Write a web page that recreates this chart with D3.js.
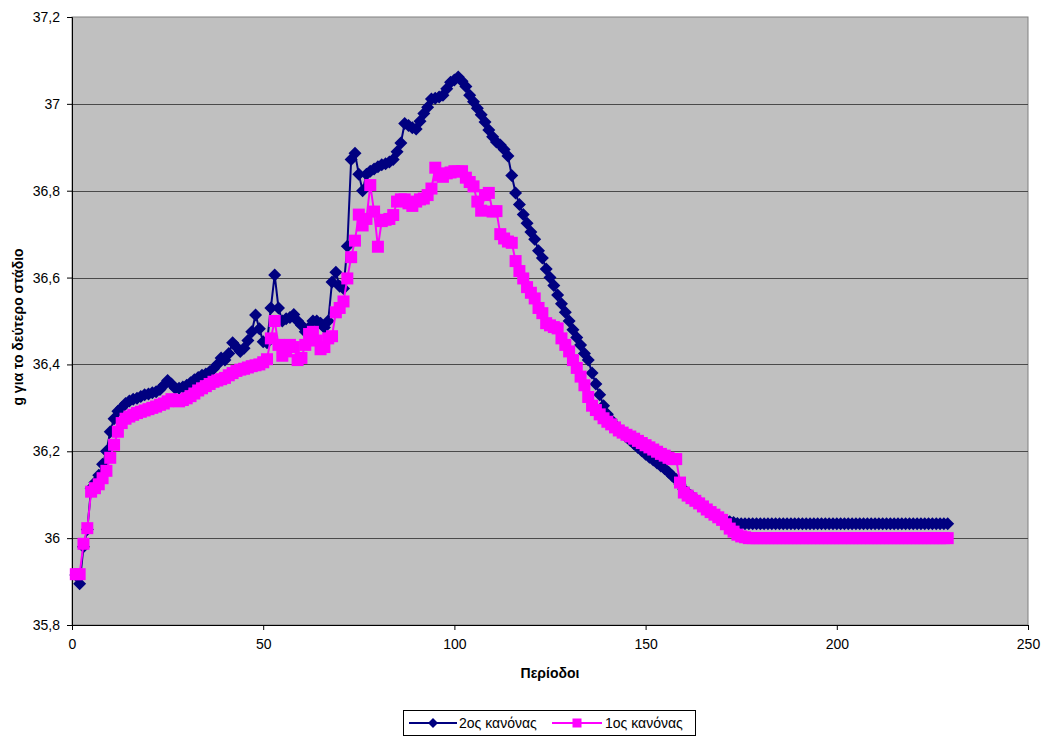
<!DOCTYPE html>
<html>
<head>
<meta charset="utf-8">
<script src="https://cdnjs.cloudflare.com/ajax/libs/d3/7.8.5/d3.min.js"></script>
<style>
  body { margin: 0; background: #fff; }
  svg { display: block; font-family: "Liberation Sans", Arial, sans-serif; }
</style>
</head>
<body>
<svg id="chart"></svg>
<script>
// values, period 1..229
const rule2 = [
  35.915, 35.895, 35.98, 36.02, 36.115, 36.128, 36.145, 36.17, 36.20, 36.245,
  36.275, 36.292, 36.30, 36.31, 36.316, 36.32, 36.322, 36.326, 36.33, 36.332,
  36.335, 36.337, 36.342, 36.352, 36.363, 36.355, 36.345, 36.345, 36.348, 36.352,
  36.358, 36.365, 36.37, 36.375, 36.378, 36.383, 36.39, 36.40, 36.415, 36.41,
  36.425, 36.45, 36.44, 36.43, 36.437, 36.455, 36.475, 36.514, 36.482, 36.452,
  36.45, 36.53, 36.606, 36.53, 36.50, 36.505, 36.508, 36.515, 36.50, 36.49,
  36.475, 36.485, 36.50, 36.50, 36.495, 36.485, 36.50, 36.59, 36.612, 36.58,
  36.575, 36.672, 36.872, 36.886, 36.838, 36.80, 36.838, 36.845, 36.85, 36.855,
  36.86, 36.862, 36.866, 36.872, 36.89, 36.91, 36.955, 36.95, 36.945, 36.942,
  36.96, 36.978, 36.992, 37.011, 37.013, 37.016, 37.02, 37.035, 37.05, 37.055,
  37.062, 37.052, 37.04, 37.02, 37.005, 36.99, 36.975, 36.958, 36.94, 36.924,
  36.912, 36.905, 36.895, 36.88, 36.835, 36.795, 36.768, 36.745, 36.725, 36.705,
  36.688, 36.662, 36.645, 36.62, 36.60, 36.582, 36.56, 36.54, 36.52, 36.50,
  36.48, 36.462, 36.445, 36.425, 36.41, 36.38, 36.355, 36.33, 36.305, 36.285,
  36.272, 36.26, 36.25, 36.241, 36.233, 36.225, 36.217, 36.209, 36.201, 36.193,
  36.186, 36.18, 36.173, 36.166, 36.16, 36.152, 36.143, 36.135, 36.124, 36.112,
  36.104, 36.097, 36.09, 36.083, 36.076, 36.069, 36.062, 36.056, 36.05, 36.045,
  36.041, 36.038, 36.036, 36.034, 36.033, 36.033, 36.033, 36.033, 36.033, 36.033,
  36.033, 36.033, 36.033, 36.033, 36.033, 36.033, 36.033, 36.033, 36.033, 36.033,
  36.033, 36.033, 36.033, 36.033, 36.033, 36.033, 36.033, 36.033, 36.033, 36.033,
  36.033, 36.033, 36.033, 36.033, 36.033, 36.033, 36.033, 36.033, 36.033, 36.033,
  36.033, 36.033, 36.033, 36.033, 36.033, 36.033, 36.033, 36.033, 36.033, 36.033,
  36.033, 36.033, 36.033, 36.033, 36.033, 36.033, 36.033, 36.033, 36.033
];

const rule1 = [
  35.917, 35.917, 35.987, 36.023, 36.107, 36.115, 36.124, 36.138, 36.155, 36.185,
  36.215, 36.245, 36.265, 36.275, 36.28, 36.284, 36.288, 36.291, 36.294, 36.297,
  36.30, 36.303, 36.307, 36.31, 36.315, 36.32, 36.318, 36.315, 36.318, 36.322,
  36.327, 36.333, 36.34, 36.345, 36.35, 36.355, 36.36, 36.363, 36.366, 36.369,
  36.375, 36.38, 36.385, 36.388, 36.39, 36.393, 36.396, 36.398, 36.40, 36.405,
  36.412, 36.46, 36.50, 36.445, 36.42, 36.43, 36.445, 36.44, 36.41, 36.415,
  36.445, 36.47, 36.475, 36.455, 36.435, 36.44, 36.46, 36.465, 36.52, 36.53,
  36.545, 36.598, 36.647, 36.685, 36.745, 36.72, 36.735, 36.813, 36.752, 36.671,
  36.73, 36.733, 36.735, 36.744, 36.775, 36.78, 36.78, 36.771, 36.765, 36.775,
  36.78, 36.782, 36.79, 36.805, 36.853, 36.835, 36.832, 36.84, 36.842, 36.845,
  36.844, 36.845, 36.83, 36.82, 36.81, 36.775, 36.754, 36.79, 36.795, 36.752,
  36.753, 36.70, 36.69, 36.683, 36.68, 36.638, 36.615, 36.598, 36.578, 36.565,
  36.552, 36.53, 36.518, 36.495, 36.49, 36.486, 36.483, 36.46, 36.445, 36.43,
  36.41, 36.392, 36.372, 36.352, 36.325, 36.305, 36.295, 36.285, 36.276, 36.268,
  36.262, 36.255, 36.248, 36.243, 36.238, 36.234, 36.229, 36.224, 36.219, 36.214,
  36.209, 36.204, 36.199, 36.194, 36.19, 36.185, 36.182, 36.182, 36.128, 36.105,
  36.098, 36.092, 36.086, 36.08, 36.073, 36.066, 36.06, 36.054, 36.048, 36.042,
  36.032, 36.022, 36.015, 36.008, 36.004, 36.002, 36, 36, 36, 36,
  36, 36, 36, 36, 36, 36, 36, 36, 36, 36,
  36, 36, 36, 36, 36, 36, 36, 36, 36, 36,
  36, 36, 36, 36, 36, 36, 36, 36, 36, 36,
  36, 36, 36, 36, 36, 36, 36, 36, 36, 36,
  36, 36, 36, 36, 36, 36, 36, 36, 36
];

const xTicks = [0, 50, 100, 150, 200, 250];
const yTicks = [35.8, 36, 36.2, 36.4, 36.6, 36.8, 37, 37.2];
const seriesNames = ["2ος κανόνας", "1ος κανόνας"];
const xTitle = "Περίοδοι";
const yTitle = "g για το δεύτερο στάδιο";

const W = 1047, H = 738;
const plotL = 72, plotR = 1028, plotT = 17, plotB = 625;
const fontSize = 14;

const svg = d3.select("#chart").attr("width", W).attr("height", H);

const x = d3.scaleLinear().domain([0, 250]).range([plotL, plotR]);
const y = d3.scaleLinear().domain([35.8, 37.2]).range([plotB, plotT]);
const fmt = v => String(+v.toFixed(1)).replace(".", ",");

// plot area
svg.append("rect")
  .attr("x", plotL).attr("y", plotT)
  .attr("width", plotR - plotL).attr("height", plotB - plotT)
  .attr("fill", "#c0c0c0").attr("stroke", "#808080");

// gridlines
svg.append("g").selectAll("line")
  .data(yTicks.filter(v => v > 35.8 && v < 37.2))
  .join("line")
  .attr("x1", plotL).attr("x2", plotR)
  .attr("y1", d => Math.round(y(d)) + 0.5).attr("y2", d => Math.round(y(d)) + 0.5)
  .attr("stroke", "#4a4a4a").attr("stroke-width", 1);

// axes
const yAxis = svg.append("g")
  .attr("transform", `translate(${plotL},0)`)
  .call(d3.axisLeft(y).tickValues(yTicks).tickFormat(fmt).tickSize(5).tickPadding(7));
const xAxis = svg.append("g")
  .attr("transform", `translate(0,${plotB})`)
  .call(d3.axisBottom(x).tickValues(xTicks).tickFormat(d3.format("d")).tickSize(5).tickPadding(9));
[yAxis, xAxis].forEach(a => {
  a.selectAll("text").attr("font-size", fontSize).attr("fill", "#000")
    .attr("font-family", '"Liberation Sans", Arial, sans-serif');
  a.select(".domain").attr("stroke", "#000");
  a.selectAll(".tick line").attr("stroke", "#000");
});

// titles
svg.append("text")
  .attr("x", (plotL + plotR) / 2).attr("y", 678)
  .attr("text-anchor", "middle").attr("font-size", fontSize).attr("font-weight", "bold")
  .text(xTitle);
svg.append("text")
  .attr("transform", `translate(23,${(plotT + plotB) / 2 + 6}) rotate(-90)`)
  .attr("text-anchor", "middle").attr("font-size", fontSize).attr("font-weight", "bold")
  .text(yTitle);

const diamond = r => `M0,${-r}L${r},0L0,${r}L${-r},0Z`;
const periods = rule2.map((_, i) => i + 1);

const series = [
  { name: seriesNames[0], values: rule2, color: "#000080", shape: "diamond" },
  { name: seriesNames[1], values: rule1, color: "#ff00ff", shape: "square" }
];

const line = d3.line().x(d => x(d[0])).y(d => y(d[1]));

series.forEach(s => {
  const pts = periods.map((p, i) => [p, s.values[i]]);
  const g = svg.append("g");
  g.append("path")
    .datum(pts)
    .attr("d", line)
    .attr("fill", "none")
    .attr("stroke", s.color)
    .attr("stroke-width", 2);
  if (s.shape === "diamond") {
    g.selectAll("path.m").data(pts).join("path")
      .attr("class", "m")
      .attr("d", diamond(6.5))
      .attr("transform", d => `translate(${x(d[0])},${y(d[1])})`)
      .attr("fill", s.color);
  } else {
    g.selectAll("rect").data(pts).join("rect")
      .attr("x", d => x(d[0]) - 6).attr("y", d => y(d[1]) - 6)
      .attr("width", 12).attr("height", 12)
      .attr("fill", s.color);
  }
});

// legend
const lg = svg.append("g");
lg.append("rect")
  .attr("x", 403.5).attr("y", 710.5).attr("width", 292).attr("height", 25)
  .attr("fill", "#fff").attr("stroke", "#000");
const items = [
  { name: seriesNames[0], color: "#000080", shape: "diamond", x0: 409, x1: 457, tx: 459 },
  { name: seriesNames[1], color: "#ff00ff", shape: "square", x0: 552, x1: 602, tx: 605 }
];
items.forEach(it => {
  const cy = 723;
  lg.append("line")
    .attr("x1", it.x0).attr("x2", it.x1).attr("y1", cy).attr("y2", cy)
    .attr("stroke", it.color).attr("stroke-width", 2);
  const cx = (it.x0 + it.x1) / 2;
  if (it.shape === "diamond") {
    lg.append("path").attr("d", diamond(5)).attr("transform", `translate(${cx},${cy})`).attr("fill", it.color);
  } else {
    lg.append("rect").attr("x", cx - 4.5).attr("y", cy - 4.5).attr("width", 9).attr("height", 9).attr("fill", it.color);
  }
  lg.append("text")
    .attr("x", it.tx).attr("y", cy + 5)
    .attr("font-size", fontSize)
    .text(it.name);
});
</script>
</body>
</html>
